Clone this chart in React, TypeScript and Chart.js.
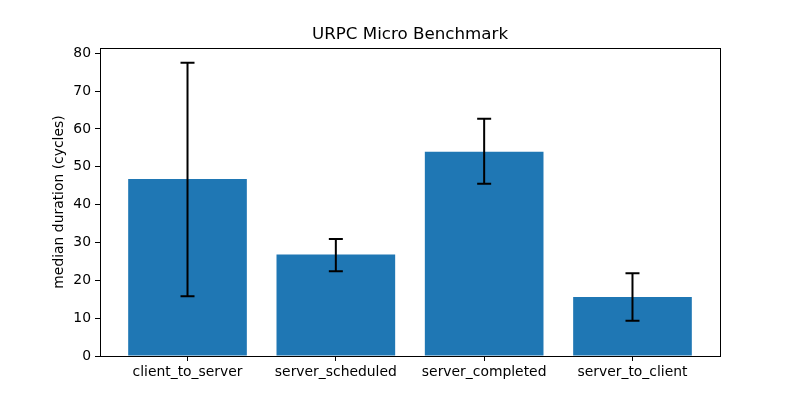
import { useEffect, useRef } from 'react';
import { Chart, registerables } from 'chart.js';

Chart.register(...registerables);

const chartTitle = 'URPC Micro Benchmark';
const categories = ['client_to_server', 'server_scheduled', 'server_completed', 'server_to_client'];
const medians = [46.8, 26.8, 54.0, 15.6];
const errLow = [15.8, 22.4, 45.5, 9.3];
const errHigh = [77.5, 30.9, 62.7, 21.9];
const yTicks = [0, 10, 20, 30, 40, 50, 60, 70, 80];

const FONT = 'DejaVu Sans';

const errorBars = {
  id: 'errorBars',
  afterDatasetsDraw(chart: any) {
    const { ctx, scales } = chart;
    const a = chart.chartArea;
    ctx.save();
    ctx.strokeStyle = '#000';
    ctx.lineWidth = 2;
    medians.forEach((_, i) => {
      const x = scales.x.getPixelForValue(i);
      const yl = scales.y.getPixelForValue(errLow[i]);
      const yh = scales.y.getPixelForValue(errHigh[i]);
      ctx.beginPath();
      ctx.moveTo(x, yl);
      ctx.lineTo(x, yh);
      ctx.moveTo(x - 7, yl);
      ctx.lineTo(x + 7, yl);
      ctx.moveTo(x - 7, yh);
      ctx.lineTo(x + 7, yh);
      ctx.stroke();
    });
    // full box around the axes
    ctx.lineWidth = 1;
    ctx.strokeRect(a.left + 0.5, a.top + 0.5, a.right - a.left, a.bottom - a.top);
    // title centred over the axes
    ctx.fillStyle = '#000';
    ctx.font = `16.7px "${FONT}"`;
    ctx.textAlign = 'center';
    ctx.textBaseline = 'alphabetic';
    ctx.fillText(chartTitle, (a.left + a.right) / 2, a.top - 9);
    ctx.restore();
  },
};

export default function App() {
  const chartRef = useRef<HTMLCanvasElement>(null);

  useEffect(() => {
    if (!chartRef.current) return;
    const chart = new Chart(chartRef.current, {
      type: 'bar',
      data: {
        datasets: [{
          data: medians.map((v, i) => ({ x: i, y: v })),
          backgroundColor: '#1f77b4',
          borderWidth: 0,
          inflateAmount: 0,
          barPercentage: 0.8,
          categoryPercentage: 1,
        }],
      },
      options: {
        animation: false,
        responsive: true,
        maintainAspectRatio: false,
        layout: { padding: { left: 0, right: 80, top: 48, bottom: 0 } },
        plugins: {
          legend: { display: false },
          tooltip: { enabled: false },
          title: { display: false },
        },
        scales: {
          x: {
            type: 'linear',
            min: -0.59,
            max: 3.59,
            offset: false,
            grid: { display: true, offset: false, drawOnChartArea: false, drawTicks: true, tickLength: 5, color: '#000' },
            border: { display: false },
            afterBuildTicks: (axis: any) => {
              axis.ticks = categories.map((_, i) => ({ value: i }));
            },
            afterFit: (scale: any) => { scale.height = 44; },
            ticks: {
              color: '#000',
              padding: 3,
              maxRotation: 0,
              autoSkip: false,
              font: { family: FONT, size: 13.9 },
              callback: (value: any) => categories[value as number] ?? '',
            },
          },
          y: {
            min: 0,
            max: 81.4,
            grid: { display: true, drawOnChartArea: false, drawTicks: true, tickLength: 5, color: '#000' },
            border: { display: false },
            afterBuildTicks: (axis: any) => {
              axis.ticks = yTicks.map((v) => ({ value: v }));
            },
            afterFit: (scale: any) => { scale.width = 100; },
            ticks: {
              color: '#000',
              padding: 4,
              font: { family: FONT, size: 13.9 },
            },
            title: {
              display: true,
              text: 'median duration (cycles)',
              color: '#000',
              font: { family: FONT, size: 13.9 },
              padding: { top: 51, bottom: 0 },
            },
          },
        },
      },
      plugins: [errorBars],
    });
    return () => chart.destroy();
  }, []);

  return (
    <div style={{ position: 'absolute', left: 0, top: 0, width: 800, height: 400, background: '#fff' }}>
      <canvas ref={chartRef} />
    </div>
  );
}
